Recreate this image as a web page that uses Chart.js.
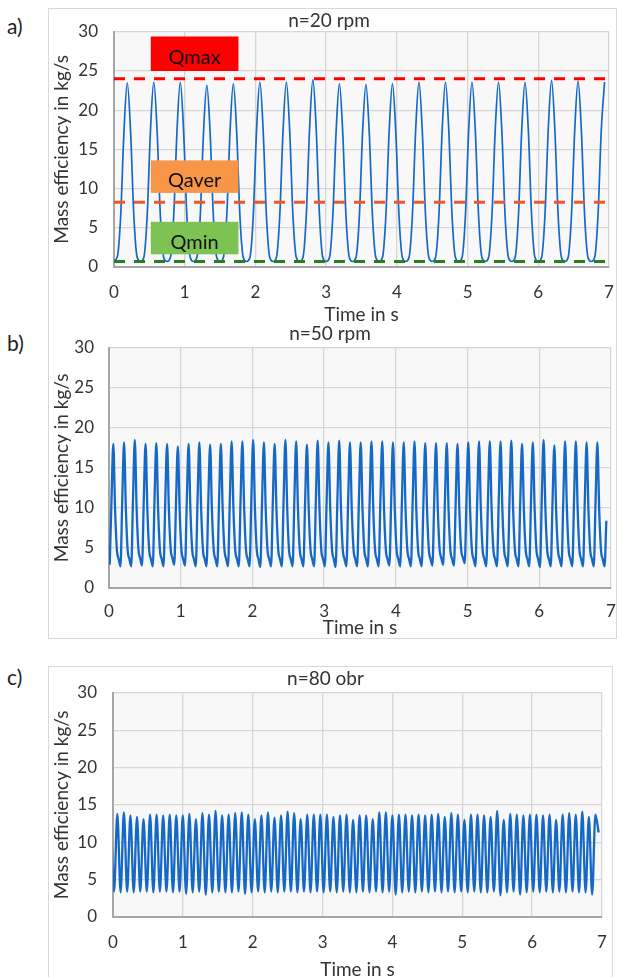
<!DOCTYPE html>
<html>
<head>
<meta charset="utf-8">
<title>Mass efficiency</title>
<script src="https://cdn.jsdelivr.net/npm/chart.js@4.4.1/dist/chart.umd.min.js"></script>
<style>
    html, body { margin: 0; padding: 0; background: #fff; overflow: hidden; }
    body { width: 617px; height: 977px; position: relative; font-family: Lato, sans-serif; }
    .frame { position: absolute; border: 1px solid #d9d9d9; box-sizing: border-box; }
    .panel { position: absolute; }
    .tag { position: absolute; left: 7px; font-size: 21px; line-height: 1; color: #222; }
</style>
</head>
<body>
<div class="frame" style="left:48px; top:8px; width:569px; height:631px;"></div>
<div class="frame" style="left:48px; top:666px; width:565px; height:330px;"></div>

<div class="tag" style="top:15px;">a)</div>
<div class="tag" style="top:332px;">b)</div>
<div class="tag" style="top:666px;">c)</div>

<div class="panel" style="left:49px; top:9px; width:580px; height:316px;"><canvas id="chartA"></canvas></div>
<div class="panel" style="left:49px; top:322px; width:584px; height:316px;"><canvas id="chartB"></canvas></div>
<div class="panel" style="left:49px; top:667px; width:568px; height:313px;"><canvas id="chartC"></canvas></div>

<script>
// axis ticks (shared by the three panels)
const timeTicks = [0, 1, 2, 3, 4, 5, 6, 7];
const flowTicks = [0, 5, 10, 15, 20, 25, 30];

// a) n=20 rpm, sampled every 0.046875 s from t = 0
const aStart = 0;
const aStep = 0.046875;
const aValues = [
    0.8, 1.3, 6.4, 17.2, 23.5, 17.3, 6.4, 1.2,
    0.7, 1.2, 6.5, 17.4, 23.6, 17.4, 6.4, 1.2,
    0.7, 1.2, 6.4, 17.3, 23.6, 17.3, 6.3, 1.2,
    0.7, 1.2, 6.3, 17.1, 23.2, 17.1, 6.3, 1.2,
    0.7, 1.2, 6.4, 17.2, 23.4, 17.3, 6.4, 1.2,
    0.7, 1.2, 6.4, 17.4, 23.6, 17.4, 6.4, 1.2,
    0.7, 1.2, 6.5, 17.4, 23.6, 17.4, 6.4, 1.2,
    0.7, 1.2, 6.5, 17.6, 23.9, 17.6, 6.5, 1.2,
    0.7, 1.2, 6.4, 17.2, 23.4, 17.2, 6.4, 1.2,
    0.7, 1.2, 6.3, 17.2, 23.3, 17.2, 6.3, 1.2,
    0.7, 1.2, 6.4, 17.2, 23.4, 17.3, 6.4, 1.2,
    0.7, 1.2, 6.4, 17.4, 23.6, 17.4, 6.4, 1.2,
    0.7, 1.2, 6.4, 17.4, 23.6, 17.4, 6.4, 1.2,
    0.7, 1.2, 6.4, 17.4, 23.6, 17.4, 6.4, 1.2,
    0.7, 1.2, 6.4, 17.4, 23.6, 17.4, 6.4, 1.2,
    0.7, 1.2, 6.4, 17.4, 23.6, 17.4, 6.4, 1.2,
    0.7, 1.2, 6.5, 17.5, 23.8, 17.5, 6.5, 1.2,
    0.7, 1.2, 6.5, 17.5, 23.7, 17.4, 6.4, 1.2,
    0.7, 1.2, 6.4, 17.4, 23.6
];

// reference levels drawn on panel a
const qNames = ['Qmax', 'Qaver', 'Qmin'];
const qLevels = [24.0, 8.25, 0.7];
const qSpan = [0, 6.95];

// b) n=50 rpm, sampled every 0.025 s from t = 0.01
const bStart = 0.01;
const bStep = 0.025;
const bValues = [
    2.9, 11.0,
    18.0, 9.8, 4.8, 3.6, 2.7, 11.1,
    18.2, 9.9, 4.8, 3.6, 2.7, 11.2,
    18.5, 10.0, 4.9, 3.7, 2.8, 11.0,
    18.0, 9.8, 4.8, 3.6, 2.7, 11.1,
    18.1, 9.8, 4.8, 3.6, 2.7, 11.0,
    18.0, 9.8, 4.9, 3.7, 2.9, 10.9,
    17.7, 9.7, 4.8, 3.6, 2.8, 11.0,
    18.0, 9.8, 4.8, 3.6, 2.7, 11.1,
    18.2, 9.9, 4.8, 3.6, 2.7, 11.0,
    17.9, 9.8, 4.8, 3.6, 2.7, 11.0,
    18.0, 9.8, 4.8, 3.6, 2.7, 11.1,
    18.3, 9.9, 4.8, 3.6, 2.7, 11.1,
    18.3, 9.9, 4.8, 3.6, 2.7, 11.2,
    18.5, 10.0, 4.8, 3.6, 2.6, 11.1,
    18.2, 9.9, 4.8, 3.6, 2.7, 11.0,
    18.0, 9.8, 4.8, 3.6, 2.7, 11.2,
    18.5, 10.0, 4.8, 3.6, 2.7, 11.1,
    18.3, 9.9, 4.8, 3.6, 2.7, 10.9,
    17.9, 9.8, 4.8, 3.6, 2.7, 11.1,
    18.4, 9.9, 4.8, 3.6, 2.7, 11.0,
    18.2, 9.9, 4.8, 3.6, 2.6, 11.1,
    18.4, 9.9, 4.8, 3.6, 2.7, 11.0,
    18.2, 9.9, 4.8, 3.6, 2.7, 11.0,
    18.2, 9.9, 4.8, 3.6, 2.7, 11.0,
    18.3, 9.9, 4.8, 3.6, 2.7, 11.1,
    18.3, 9.9, 4.8, 3.6, 2.8, 11.0,
    18.2, 9.9, 4.8, 3.6, 2.7, 11.0,
    18.2, 9.9, 4.8, 3.6, 2.7, 11.1,
    18.3, 9.9, 4.8, 3.6, 2.7, 11.0,
    18.1, 9.8, 4.8, 3.6, 2.8, 11.0,
    18.1, 9.8, 4.9, 3.7, 2.9, 11.1,
    18.1, 9.8, 4.8, 3.6, 2.8, 11.0,
    18.0, 9.8, 4.9, 3.8, 3.1, 11.1,
    18.2, 9.9, 4.8, 3.6, 2.7, 11.1,
    18.3, 9.9, 4.8, 3.6, 2.7, 11.1,
    18.3, 9.9, 4.8, 3.6, 2.7, 11.1,
    18.3, 9.9, 4.8, 3.6, 2.7, 11.1,
    18.4, 9.9, 4.8, 3.6, 2.7, 11.0,
    18.0, 9.8, 4.8, 3.6, 2.7, 11.0,
    18.2, 9.9, 4.8, 3.6, 2.6, 11.2,
    18.5, 10.0, 4.8, 3.6, 2.7, 10.9,
    17.8, 9.7, 4.8, 3.6, 2.7, 11.1,
    18.3, 9.9, 4.8, 3.6, 2.7, 11.1,
    18.3, 9.9, 4.8, 3.6, 2.7, 11.0,
    18.2, 9.9, 4.8, 3.6, 2.7, 11.0,
    18.2, 9.9, 4.8, 3.6, 2.7, 8.4
];

// c) n=80 obr, one trough and one peak every 0.09375 s
const cStart = -0.031875;
const cStep = 0.046875;
const cFirst = 13.8;
const cLast = 11.3;
const cTroughs = [
    3.4, 3.3, 3.4, 3.3, 3.4, 3.4, 3.3, 3.4, 3.4, 3.3,
    3.4, 3.1, 3.3, 3.4, 3.0, 3.3, 3.4, 3.3, 3.3, 3.4,
    3.1, 3.3, 3.4, 3.3, 3.4, 3.3, 3.4, 3.4, 3.3, 3.4,
    3.3, 3.4, 3.3, 3.4, 3.3, 3.4, 3.3, 3.3, 3.4, 3.3,
    3.4, 3.3, 3.4, 3.0, 3.3, 3.4, 3.3, 3.4, 3.3, 3.4,
    3.3, 3.4, 3.3, 3.4, 3.3, 3.4, 3.3, 3.3, 3.4, 2.9,
    3.3, 3.4, 3.0, 3.3, 3.4, 3.3, 3.4, 3.3, 3.4, 3.3,
    3.4, 3.3, 3.3, 3.0
];
const cPeaks = [
    13.8, 14.0, 13.6, 13.4, 13.1, 13.7, 13.7, 13.6, 13.7, 13.6,
    13.6, 13.8, 13.1, 13.9, 13.7, 14.2, 13.6, 13.7, 13.9, 14.0,
    13.7, 13.1, 13.6, 14.0, 13.3, 13.6, 14.1, 13.9, 13.1, 13.7,
    13.7, 13.7, 13.7, 13.4, 13.6, 13.7, 13.0, 13.6, 13.6, 13.1,
    14.0, 14.0, 13.6, 13.7, 13.7, 13.6, 13.7, 13.6, 13.7, 13.8,
    13.4, 13.9, 13.7, 13.0, 13.7, 13.7, 13.6, 13.4, 14.2, 13.0,
    13.8, 13.7, 13.6, 13.7, 13.7, 13.6, 13.7, 13.0, 13.7, 13.9,
    13.7, 14.1, 13.4, 13.7
];

const lineBlue = '#1568c6';
const qColors = ['#ff0000', '#f0562a', '#2a7d22'];
const qFill = ['#ff0000', '#f79646', '#7dc353'];
const textColor = '#333333';

// sampled series -> {x, y}
function toPoints(start, step, values) {
    return values.map((v, i) => ({ x: start + i * step, y: v }));
}

// panel c series: trough / peak pairs
let cValues = [cFirst];
cTroughs.forEach((t, i) => { cValues.push(t, cPeaks[i]); });
cValues.push(cLast);

// light grey plot area like the Excel original
const plotBackground = {
    id: 'plotBackground',
    beforeDraw(chart) {
        const { ctx, chartArea: a } = chart;
        ctx.save();
        ctx.fillStyle = '#f8f8f8';
        ctx.fillRect(a.left, a.top, a.width, a.height);
        ctx.restore();
    }
};

// coloured Qmax / Qaver / Qmin boxes of panel a (data coordinates)
const qBoxes = [
    { x0: 0.52, x1: 1.76, y0: 25.0, y1: 29.4 },
    { x0: 0.52, x1: 1.76, y0: 9.45, y1: 13.6 },
    { x0: 0.52, x1: 1.76, y0: 1.62, y1: 5.76 }
];
const qBoxPlugin = {
    id: 'qBoxes',
    afterDatasetsDraw(chart) {
        const { ctx, scales: { x, y } } = chart;
        ctx.save();
        qBoxes.forEach((b, i) => {
            const left = x.getPixelForValue(b.x0);
            const right = x.getPixelForValue(b.x1);
            const top = y.getPixelForValue(b.y1);
            const bottom = y.getPixelForValue(b.y0);
            ctx.fillStyle = qFill[i];
            ctx.fillRect(left, top, right - left, bottom - top);
            ctx.fillStyle = '#111';
            ctx.font = '20px Lato';
            ctx.textAlign = 'center';
            ctx.textBaseline = 'middle';
            ctx.fillText(qNames[i], (left + right) / 2, (top + bottom) / 2 + 4);
        });
        ctx.restore();
    }
};

function buildChart(id, cfg) {
    return new Chart(document.getElementById(id), {
        type: 'line',
        data: { datasets: cfg.datasets },
        options: {
            responsive: true,
            maintainAspectRatio: false,
            animation: false,
            events: [],
            layout: { padding: { left: 0, top: 0, right: cfg.padRight, bottom: 0 } },
            elements: { point: { radius: 0 } },
            plugins: {
                legend: { display: false },
                tooltip: { enabled: false },
                title: {
                    display: true,
                    text: cfg.title,
                    color: textColor,
                    font: { family: 'Lato', size: 19, weight: 'normal', lineHeight: 1.2 },
                    padding: { top: cfg.titleTop, bottom: cfg.titleBottom }
                }
            },
            scales: {
                x: {
                    type: 'linear',
                    min: timeTicks[0],
                    max: timeTicks[timeTicks.length - 1],
                    afterFit: (s) => {
                        s.height = cfg.xHeight;
                        s.paddingLeft = 0;
                        s.paddingRight = 0;
                    },
                    afterBuildTicks: (s) => { s.ticks = timeTicks.map(v => ({ value: v })); },
                    ticks: { padding: cfg.xTickPad, color: textColor, font: { family: 'Lato', size: 17 } },
                    grid: { color: '#d6d6d6', lineWidth: 1.3, drawTicks: false },
                    border: { color: '#a6a6a6', width: 2 },
                    title: {
                        display: true,
                        text: 'Time in s',
                        color: textColor,
                        font: { family: 'Lato', size: 19, lineHeight: 1 },
                        padding: { top: 0, bottom: cfg.xTitlePad }
                    }
                },
                y: {
                    min: flowTicks[0],
                    max: flowTicks[flowTicks.length - 1],
                    afterFit: (s) => {
                        s.width = cfg.yWidth;
                        s.paddingTop = 0;
                        s.paddingBottom = 0;
                    },
                    afterBuildTicks: (s) => { s.ticks = flowTicks.map(v => ({ value: v })); },
                    ticks: { padding: cfg.yTickPad, color: textColor, font: { family: 'Lato', size: 17 } },
                    grid: { color: '#d6d6d6', lineWidth: 1.3, drawTicks: false },
                    border: { color: '#a6a6a6', width: 2 },
                    title: {
                        display: true,
                        text: 'Mass efficiency in kg/s',
                        color: textColor,
                        font: { family: 'Lato', size: 19, lineHeight: 1 },
                        padding: { top: 3.5, bottom: 0 }
                    }
                }
            }
        },
        plugins: [plotBackground].concat(cfg.extra || [])
    });
}

// Panel a
const qDatasets = qLevels.map((lvl, i) => ({
    data: qSpan.map(t => ({ x: t, y: lvl })),
    borderColor: qColors[i],
    borderWidth: 3,
    borderDash: [11, 9],
    order: 0
}));

buildChart('chartA', {
    title: 'n=20 rpm',
    titleTop: 0, titleBottom: 0,
    padRight: 20, yWidth: 65, xHeight: 58,
    xTickPad: 15, yTickPad: 16, xTitlePad: 0.5,
    datasets: qDatasets.concat([{
        data: toPoints(aStart, aStep, aValues),
        borderColor: lineBlue,
        borderWidth: 1.7,
        cubicInterpolationMode: 'monotone',
        order: 1
    }]),
    extra: [qBoxPlugin]
});

// Panel b
buildChart('chartB', {
    title: 'n=50 rpm',
    titleTop: 0, titleBottom: 3,
    padRight: 22, yWidth: 60, xHeight: 50,
    xTickPad: 13, yTickPad: 15, xTitlePad: 0.5,
    datasets: [{
        data: toPoints(bStart, bStep, bValues),
        borderColor: lineBlue,
        borderWidth: 2.3,
        cubicInterpolationMode: 'monotone'
    }]
});

// Panel c
buildChart('chartC', {
    title: 'n=80 obr',
    titleTop: 0, titleBottom: 3,
    padRight: 15, yWidth: 64, xHeight: 63,
    xTickPad: 15, yTickPad: 16, xTitlePad: 0.5,
    datasets: [{
        data: toPoints(cStart, cStep, cValues),
        borderColor: lineBlue,
        borderWidth: 2.3,
        cubicInterpolationMode: 'monotone'
    }]
});
</script>
</body>
</html>
